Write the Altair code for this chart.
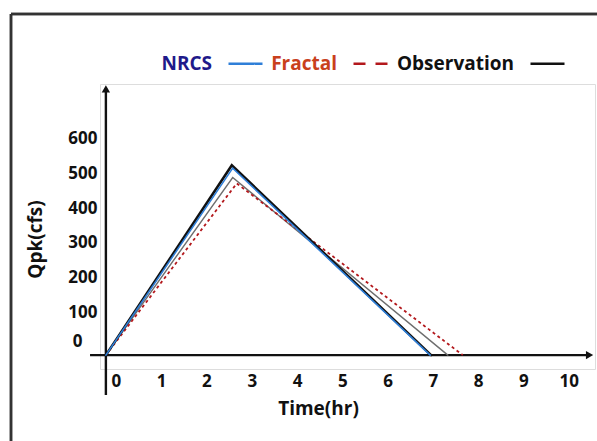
import altair as alt
import pandas as pd

# Series shown as hydrographs (time in hr, peak discharge Qpk in cfs)
series_order = ["Gray", "Fractal", "NRCS", "Observation"]
legend_series = ["NRCS", "Fractal", "Observation"]
series_colors = ["#6e6e6e", "#b3181c", "#2f7fd8", "#111111"]
series_widths = [1.4, 1.8, 1.6, 2.6]

obs_time = [0, 2.78, 7.18]
obs_q = [0, 546, 0]
nrcs_time = [0, 2.80, 7.16]
nrcs_q = [0, 538, 0]
gray_time = [0, 2.80, 7.55]
gray_q = [0, 511, 0]
frac_time = [0, 2.89, 7.88]
frac_q = [0, 494, 0]

x_ticks = list(range(0, 11))
y_ticks = list(range(0, 700, 100))

# Arrowed axis lines in data units
axis_x = [0, -0.35]
axis_x2 = [0, 10.62]
axis_y = [-115, 0]
axis_y2 = [768, 0]
arrow_x = [0, 10.68]
arrow_y = [766, 0]
arrow_shape = ["triangle-up", "triangle-right"]

rows = []
for name, t, q in [("Observation", obs_time, obs_q), ("NRCS", nrcs_time, nrcs_q),
                   ("Gray", gray_time, gray_q), ("Fractal", frac_time, frac_q)]:
    for i, (ti, qi) in enumerate(zip(t, q)):
        rows.append({"series": name, "time": ti, "q": qi, "idx": i,
                     "w": series_widths[series_order.index(name)]})
df = pd.DataFrame(rows)

axes_df = pd.DataFrame({"x": axis_x, "x2": axis_x2, "y": axis_y, "y2": axis_y2})
arrows_df = pd.DataFrame({"x": arrow_x, "y": arrow_y, "shape": arrow_shape})

FONT = "Open Sans"
x_scale = alt.Scale(domain=[-0.13, 10.8], nice=False, zero=False)
y_scale = alt.Scale(domain=[-40, 780], nice=False, zero=False)
color_scale = alt.Scale(domain=series_order, range=series_colors)

x_axis = alt.Axis(values=x_ticks, domain=False, ticks=False, tickSize=0, grid=False,
                  labelFont=FONT, labelFontSize=17, labelFontWeight="bold", labelColor="#111",
                  labelOffset=10, labelPadding=4, labelFlush=False, labelOverlap=False,
                  title="Time(hr)", titleFont=FONT, titleFontSize=19, titleFontWeight="bold",
                  titleColor="#111", titleX=218, titleY=39, titleAlign="center",
                  titleBaseline="middle")
y_axis = alt.Axis(values=y_ticks, domain=False, ticks=False, tickSize=0, grid=False,
                  labelFont=FONT, labelFontSize=17, labelFontWeight="bold", labelColor="#111",
                  labelAlign="right", labelBaseline="middle",
                  labelPadding={"expr": "datum.value === 0 ? 18 : 3"},
                  labelOffset={"expr": "datum.value === 0 ? -14 : -8"},
                  labelFlush=False, labelOverlap=False,
                  title="Qpk(cfs)", titleFont=FONT, titleFontSize=19, titleFontWeight="bold",
                  titleColor="#111", titleAngle=-90, titleX=-65, titleY=155,
                  titleAlign="center", titleBaseline="middle")

legend = alt.Legend(
    orient="none", legendX=127, legendY=-39, direction="horizontal", title=None,
    values=legend_series, symbolType="stroke", symbolSize=34 * 34, symbolStrokeWidth=2.6,
    symbolDash={"expr": "datum.value === 'Fractal' ? [12, 10] : [1, 0]"},
    labelFont=FONT, labelFontSize=19, labelFontWeight="bold",
    labelColor={"expr": "datum.value === 'NRCS' ? '#1f1a8a' : datum.value === 'Fractal' ? '#c9401c' : '#111111'"},
    labelAlign="right", labelOffset={"expr": "-52"}, columnPadding=3,
)

base = alt.Chart(df).encode(
    x=alt.X("time:Q", scale=x_scale, axis=x_axis),
    y=alt.Y("q:Q", scale=y_scale, axis=y_axis),
    color=alt.Color("series:N", scale=color_scale, legend=legend),
    strokeWidth=alt.StrokeWidth("w:Q", scale=None, legend=None),
    order="idx:Q",
)

gray_line = base.transform_filter(alt.datum.series == "Gray").mark_line(strokeCap="round")
fractal_line = base.transform_filter(alt.datum.series == "Fractal").mark_line(strokeDash=[3, 3])
main_lines = base.transform_filter(
    (alt.datum.series == "NRCS") | (alt.datum.series == "Observation")
).mark_line(strokeCap="round")

axis_lines = alt.Chart(axes_df).mark_rule(color="#111", strokeWidth=2.4).encode(
    x="x:Q", x2="x2:Q", y="y:Q", y2="y2:Q"
)
arrows = alt.Chart(arrows_df).mark_point(filled=True, color="#111", size=70, opacity=1).encode(
    x="x:Q", y="y:Q", shape=alt.Shape("shape:N", scale=None, legend=None)
)

# Outer frame around the figure
frame_left = alt.Chart(axes_df).mark_rule(color="#333", strokeWidth=2.5).encode(
    x=alt.value(-89), y=alt.value(-70), y2=alt.value(400)
)
frame_top = alt.Chart(axes_df).mark_rule(color="#333", strokeWidth=2.5).encode(
    x=alt.value(-89), x2=alt.value(520), y=alt.value(-70)
)

chart = alt.layer(frame_left, frame_top, axis_lines, arrows,
                  gray_line, fractal_line, main_lines).properties(
    width=495, height=285,
    padding={"left": 100, "top": 84, "right": 2, "bottom": 72},
    autosize=alt.AutoSizeParams(type="none"),
).configure_view(stroke=None).configure(background="white")

chart.save("out.html", embed_options={"renderer": "svg", "actions": False})
